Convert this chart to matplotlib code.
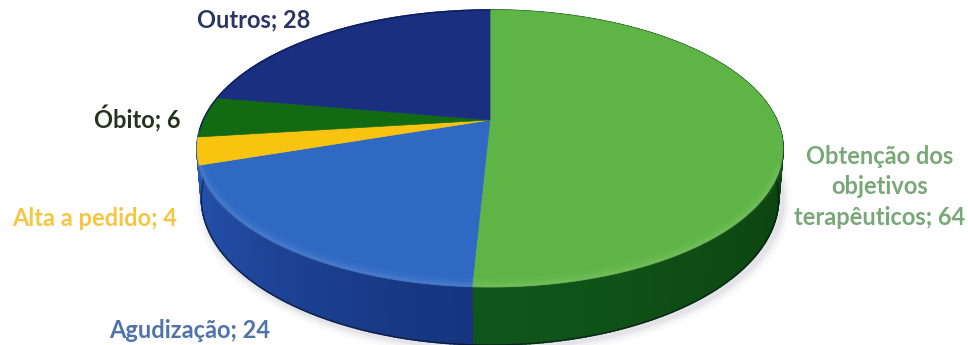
import numpy as np
import matplotlib
matplotlib.use("Agg")
import matplotlib.pyplot as plt

plt.rcParams["font.family"] = ["Lato", "DejaVu Sans"]

# fatias no sentido horario, a partir do topo
labels = ["Obtenção dos\nobjetivos\nterapêuticos; 64", "Agudização; 24", "Alta a pedido; 4", "Óbito; 6", "Outros; 28"]
values = [64, 24, 4, 6, 28]
top_colors = ["#5eb545", "#2f69c4", "#f8c40f", "#126a12", "#1b2f80"]
side_near = ["#10551a", "#16347f", "#2552ad", "#2552ad", "#1b2f80"]
side_far = ["#0c430e", "#2552ad", "#2552ad", "#2552ad", "#1b2f80"]
text_colors = ["#79a878", "#4f73aa", "#f5c644", "#26331f", "#2a3560"]
label_pos = [(880, 187), (190, 330), (95, 218), (137, 119), (254, 20)]

# perspectiva do disco (pixels da imagem)
CX, CY = 490, 120
A, B, K = 286.7, 132.6, 0.206


def top_xy(theta):
    u, v = np.sin(theta), np.cos(theta)
    d = 1 + K * v
    return CX + A * u / d, CY - B * v / d


def bottom_xy(theta):
    x, y = top_xy(theta)
    return CX + 0.985 * (x - CX), CY + 48 + 1.06 * (y - CY)


fig = plt.figure(figsize=(9.68, 3.45), dpi=100)
ax = fig.add_axes([0, 0, 1, 1])
ax.set_xlim(0, 968)
ax.set_ylim(345, 0)
ax.axis("off")

edges = np.cumsum([0] + values) / sum(values) * 2 * np.pi

# sombra suave em volta da base
t = np.linspace(np.pi / 3, 5 * np.pi / 3, 300)
bx, by = bottom_xy(t)
for w, al in [(14, 0.03), (9, 0.05), (5, 0.07)]:
    ax.plot(bx + 3, by + 2, color="#50506a", lw=w, alpha=al, zorder=1)

# parede lateral
for i in range(len(values)):
    ts = np.linspace(edges[i], edges[i + 1], max(int(values[i] * 4), 6))
    n0 = np.array(matplotlib.colors.to_rgb(side_near[i]))
    n1 = np.array(matplotlib.colors.to_rgb(side_far[i]))
    for t0, t1 in zip(ts[:-1], ts[1:]):
        x0, y0 = top_xy(np.array([t0, t1]))
        x1, y1 = bottom_xy(np.array([t1, t0]))
        f = abs(np.sin((t0 + t1) / 2)) ** 1.5
        c = n0 + (n1 - n0) * f
        ax.fill(np.r_[x0, x1], np.r_[y0, y1], color=c, lw=1.2, zorder=2)

# contorno escuro da base
vis = np.linspace(edges[0] + 1.2, edges[2] + 0.25, 200)
ax.plot(*bottom_xy(vis), color="#0a1420", lw=1.0, alpha=0.7, zorder=3)

# superficie de cima
for i in range(len(values)):
    ts = np.linspace(edges[i], edges[i + 1], max(int(values[i] * 3), 8))
    x, y = top_xy(ts)
    ax.fill(np.r_[CX, x], np.r_[CY, y], color=top_colors[i], lw=0.5, zorder=4)

# brilho na borda de cima, so na frente
for i in range(2):
    ts = np.linspace(edges[i], edges[i + 1], 150)
    ts = ts[(np.cos(ts) < -0.1) & (np.abs(np.sin(ts)) < 0.95)]
    x, y = top_xy(ts)
    for w, al in [(7, 0.03), (4, 0.04), (2, 0.05)]:
        ax.plot(x, y - w / 2, color="white", lw=w, alpha=al, zorder=5, solid_capstyle="butt")

# linha escura no topo traseiro
ts = np.linspace(edges[3] + 0.05, edges[5], 120)
ax.plot(*top_xy(ts), color="#0d1a50", lw=1.0, alpha=0.8, zorder=5)

for lab, (x, y), c in zip(labels, label_pos, text_colors):
    ax.text(x, y, lab, color=c, fontsize=17, fontweight="bold", ha="center", va="center",
            linespacing=1.42, zorder=6)

fig.savefig("out.png", dpi=100)
plt.close(fig)
